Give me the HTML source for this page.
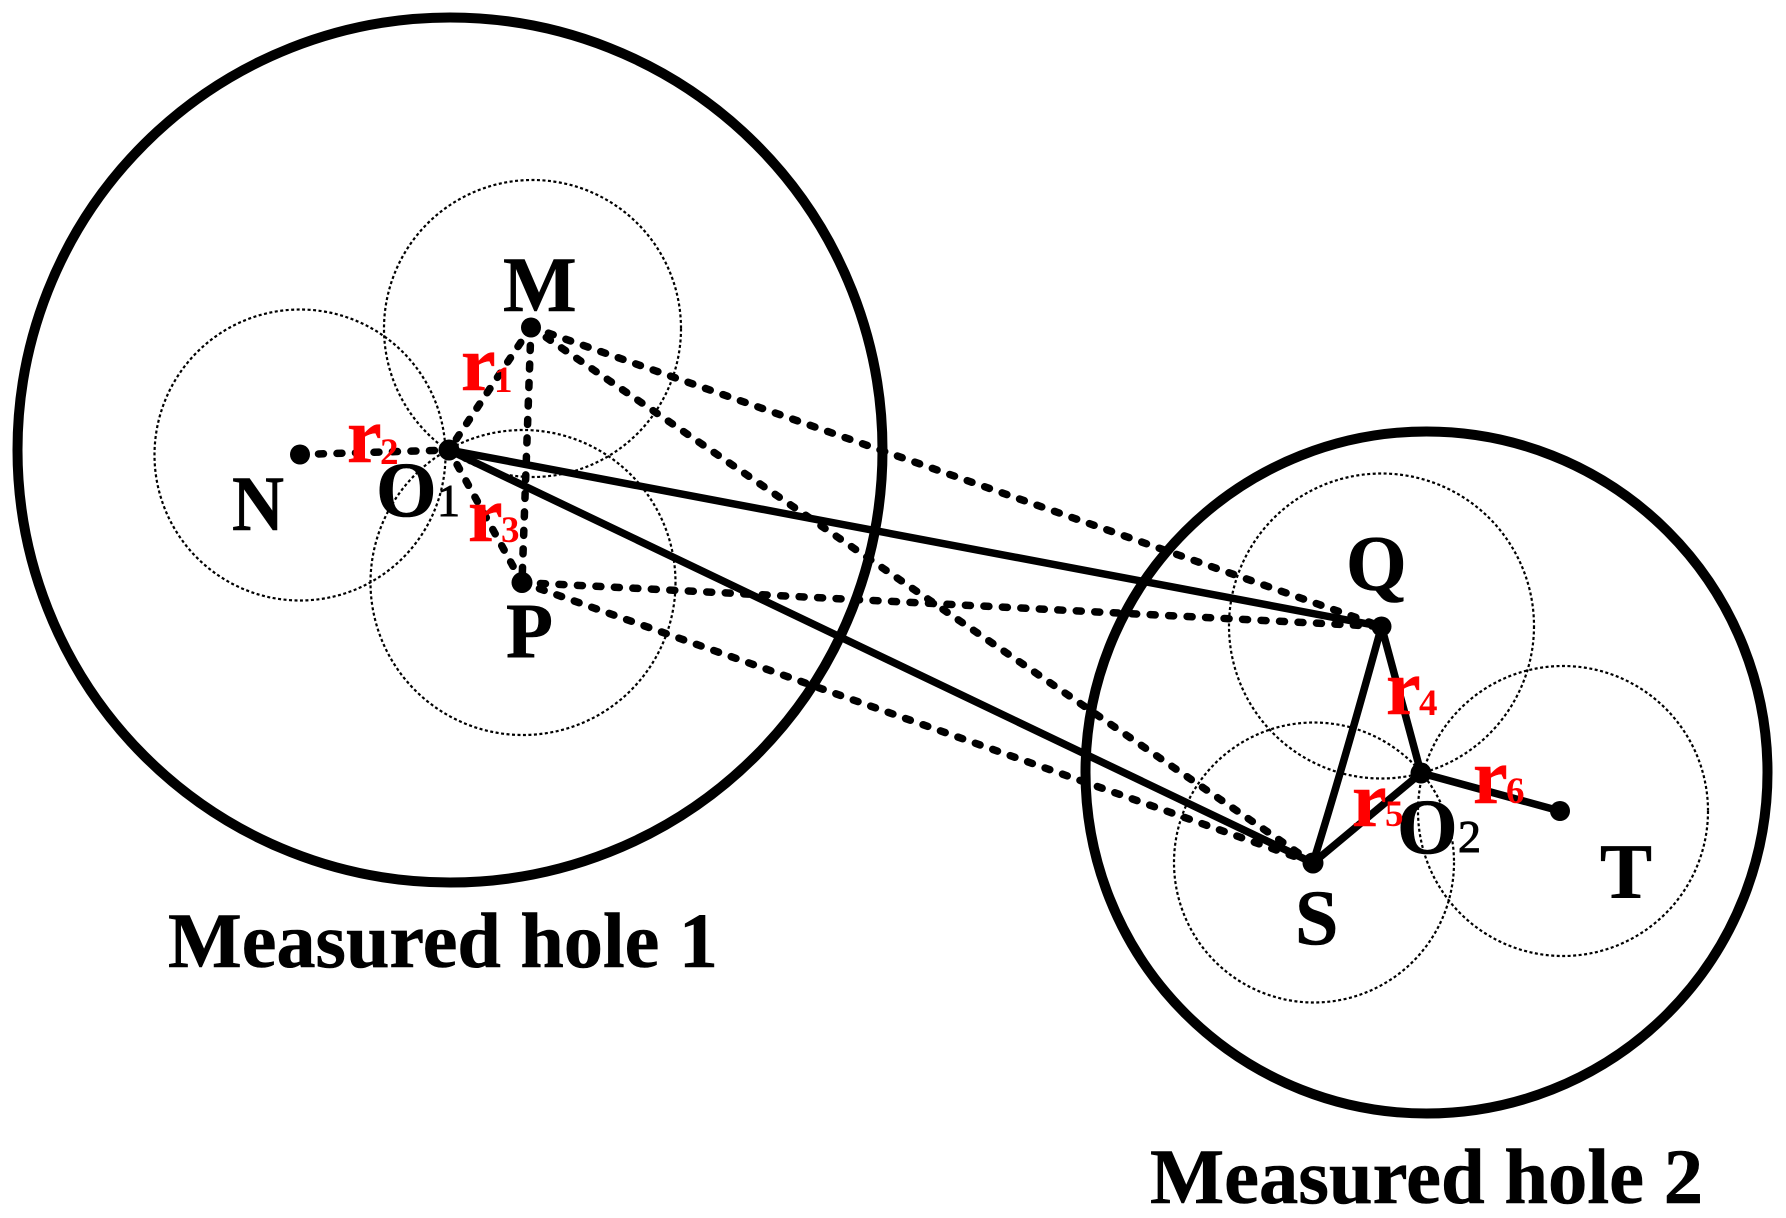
<!DOCTYPE html>
<html><head><meta charset="utf-8"><style>
html,body{margin:0;padding:0;background:#fff}
svg{display:block}
text{font-family:"Liberation Serif",serif;font-weight:bold}
.b{font-size:78px;fill:#000;stroke:#000;stroke-width:.6}
.h{font-size:78px;fill:#000;stroke:#000;stroke-width:.6}
.r{font-size:78px;fill:#f00;stroke:#f00;stroke-width:.5}
.rs{font-size:37px;fill:#f00}
.s{font-size:46px;fill:#000;stroke:#000;stroke-width:1;font-weight:normal}
</style></head><body>
<svg width="1786" height="1218" viewBox="0 0 1786 1218" xmlns="http://www.w3.org/2000/svg">
<rect width="1786" height="1218" fill="#fff"/>
<g fill="none" stroke="#000">
<circle cx="450" cy="450" r="432.5" stroke-width="10"/>
<circle cx="1426.5" cy="772.5" r="341" stroke-width="10"/>
<g stroke-width="2.2" stroke-dasharray="3 2.5">
<circle cx="532.5" cy="328.5" r="148.5"/>
<circle cx="300" cy="455" r="145.5"/>
<circle cx="523" cy="582.5" r="152.5"/>
<circle cx="1381.5" cy="626" r="152.5"/>
<circle cx="1563" cy="811" r="145"/>
<circle cx="1314" cy="862.5" r="140"/>
</g>
<g stroke-width="7.5" stroke-dasharray="5 13.5" stroke-linecap="round">
<line x1="531" y1="327" x2="449" y2="450"/>
<line x1="300" y1="454.5" x2="449" y2="450"/>
<line x1="522" y1="582.5" x2="449" y2="450"/>
<line x1="531" y1="327" x2="522" y2="582.5"/>
<line x1="531" y1="327" x2="1381.5" y2="626.5"/>
<line x1="531" y1="327" x2="1313" y2="863"/>
<line x1="522" y1="582.5" x2="1381.5" y2="626.5"/>
<line x1="522" y1="582.5" x2="1313" y2="863"/>
</g>
<g stroke-width="7.5">
<line x1="449" y1="450" x2="1381.5" y2="626.5"/>
<line x1="449" y1="450" x2="1313" y2="863"/>
<line x1="1381.5" y1="626.5" x2="1421" y2="773"/>
<path d="M1381.5 626.5 Q1345 760 1313 863"/>
<line x1="1421" y1="773" x2="1313" y2="863"/>
<line x1="1421" y1="773" x2="1560" y2="811"/>
</g>
</g>
<g fill="#000">
<circle cx="531" cy="327.5" r="10"/>
<circle cx="300" cy="454.5" r="10"/>
<circle cx="449" cy="450" r="10.5"/>
<circle cx="522" cy="582.5" r="10.5"/>
<circle cx="1381.5" cy="626.5" r="10"/>
<circle cx="1421" cy="773" r="10.5"/>
<circle cx="1313" cy="863" r="10.5"/>
<circle cx="1560" cy="811" r="10"/>
</g>
<text class="b" x="503" y="311">M</text>
<text class="b" x="232" y="530" textLength="52" lengthAdjust="spacingAndGlyphs">N</text>
<text class="b" x="376" y="516">O</text>
<text class="s" x="437" y="516">1</text>
<text class="b" x="506" y="657" textLength="47" lengthAdjust="spacingAndGlyphs">P</text>
<text class="b" x="1346" y="590">Q</text>
<text class="b" x="1295" y="944">S</text>
<text class="b" x="1600" y="898">T</text>
<text class="b" x="1397" y="853">O</text>
<text class="s" x="1458" y="852">2</text>
<text class="r" x="461" y="390">r</text><text class="rs" x="494" y="392">1</text>
<text class="r" x="347" y="462">r</text><text class="rs" x="380" y="464">2</text>
<text class="r" x="468" y="541">r</text><text class="rs" x="501" y="542">3</text>
<text class="r" x="1386" y="714">r</text><text class="rs" x="1419" y="715">4</text>
<text class="r" x="1352" y="826">r</text><text class="rs" x="1385" y="826">5</text>
<text class="r" x="1473" y="803">r</text><text class="rs" x="1506" y="803">6</text>
<text class="h" x="168" y="967" textLength="550" lengthAdjust="spacingAndGlyphs">Measured hole 1</text>
<text class="h" x="1150" y="1203" textLength="553" lengthAdjust="spacingAndGlyphs">Measured hole 2</text>
</svg>
</body></html>
